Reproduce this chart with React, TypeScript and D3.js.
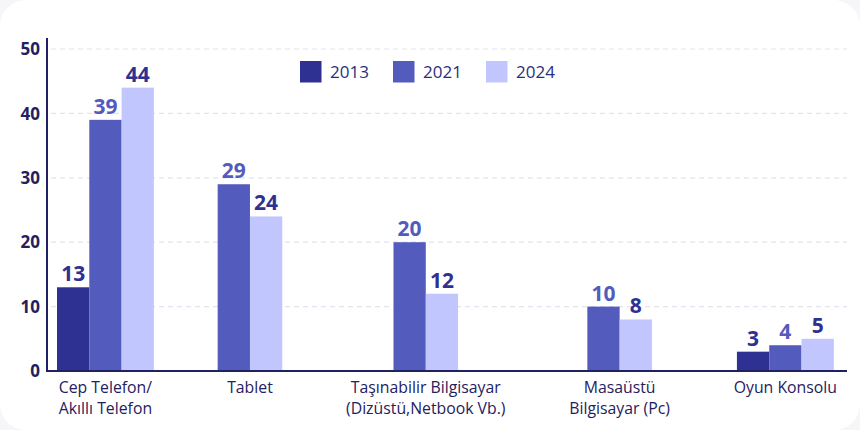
import React from "react";
import * as d3 from "d3";

const categories: string[][] = [
  ["Cep Telefon/", "Akıllı Telefon"],
  ["Tablet"],
  ["Taşınabilir Bilgisayar", "(Dizüstü,Netbook Vb.)"],
  ["Masaüstü", "Bilgisayar (Pc)"],
  ["Oyun Konsolu"],
];
const seriesNames = ["2013", "2021", "2024"];
const values2013: (number | null)[] = [13, null, null, null, 3];
const values2021: (number | null)[] = [39, 29, 20, 10, 4];
const values2024: (number | null)[] = [44, 24, 12, 8, 5];
const yTicks = [0, 10, 20, 30, 40, 50];

const seriesValues = [values2013, values2021, values2024];
const barColors = ["#2e3192", "#535bbd", "#c1c6fe"];
const labelColors = ["#2e3192", "#535bbd", "#2e3192"];
const NAVY = "#1f2160";
const FONT = "'Open Sans', 'Noto Sans', sans-serif";

const W = 860;
const H = 430;
const X0 = 47;
const X1 = 847;
const BAR_W = 32.3;
const EDGE_PAD = 10;
const CAT_SIZE = 15.8;
const CAT_FONT = `500 ${CAT_SIZE}px 'Open Sans'`;

function measure(text: string, font: string): number {
  if (typeof document === "undefined") return text.length * 8;
  const c = document.createElement("canvas");
  const ctx = c.getContext("2d");
  if (!ctx) return text.length * 8;
  ctx.font = font;
  return ctx.measureText(text).width;
}

export default function App() {
  const y = d3.scaleLinear().domain([0, 50]).range([371, 49]);

  // layout categories like a space-between row of items
  const items = categories.map((lines, i) => {
    const present = seriesNames.filter((_, s) => seriesValues[s][i] != null);
    const labelW = Math.max(...lines.map((l) => measure(l, CAT_FONT)));
    const barsW = present.length * BAR_W;
    return { lines, present, width: Math.max(labelW, barsW) };
  });
  const total = d3.sum(items, (d) => d.width);
  const gap = (X1 - X0 - 2 * EDGE_PAD - total) / (items.length - 1);
  let cursor = X0 + EDGE_PAD;
  const centers = items.map((it) => {
    const c = cursor + it.width / 2;
    cursor += it.width + gap;
    return c;
  });

  const legendX = d3.scalePoint<string>().domain(seriesNames).range([300, 486]);

  return (
    <div style={{ position: "absolute", left: 0, top: 0 }}>
      <svg width={W} height={H} style={{ display: "block", fontFamily: FONT }}>
        <rect x={0} y={0} width={W} height={H} fill="#f6f6f8" />
        <rect x={0} y={0} width={W} height={H} rx={26} fill="#ffffff" />

        {/* grid */}
        {yTicks.filter((t) => t > 0).map((t) => (
          <line
            key={"g" + t}
            x1={X0 + 4}
            x2={X1}
            y1={y(t)}
            y2={y(t)}
            stroke="#e2e3ee"
            strokeWidth={1.2}
            strokeDasharray="5 4"
          />
        ))}

        {/* y tick labels */}
        {yTicks.map((t) => (
          <text
            key={"t" + t}
            x={40}
            y={y(t)}
            dy="0.36em"
            textAnchor="end"
            fontSize={17}
            fontWeight={700}
            fill={NAVY}
          >
            {t}
          </text>
        ))}

        {/* bars */}
        {items.map((it, i) => {
          const band = d3
            .scaleBand<string>()
            .domain(it.present)
            .range([
              centers[i] - (it.present.length * BAR_W) / 2,
              centers[i] + (it.present.length * BAR_W) / 2,
            ]);
          return (
            <g key={"c" + i}>
              {it.present.map((s) => {
                const si = seriesNames.indexOf(s);
                const v = seriesValues[si][i] as number;
                const bx = band(s) as number;
                return (
                  <g key={s}>
                    <rect
                      x={bx}
                      y={y(v)}
                      width={band.bandwidth()}
                      height={y(0) - y(v)}
                      fill={barColors[si]}
                    />
                    <text
                      x={bx + band.bandwidth() / 2}
                      y={y(v) - 6}
                      textAnchor="middle"
                      fontSize={21}
                      fontWeight={700}
                      fill={labelColors[si]}
                    >
                      {v}
                    </text>
                  </g>
                );
              })}
              {it.lines.map((l, li) => (
                <text
                  key={li}
                  x={centers[i]}
                  y={392.5 + li * 21.5}
                  textAnchor="middle"
                  fontSize={CAT_SIZE}
                  fontWeight={500}
                  fill={NAVY}
                >
                  {l}
                </text>
              ))}
            </g>
          );
        })}

        {/* axes */}
        <line x1={X0} x2={X0} y1={38} y2={372} stroke={NAVY} strokeWidth={2} />
        <line x1={X0} x2={X1} y1={371} y2={371} stroke={NAVY} strokeWidth={2} />

        {/* legend */}
        {seriesNames.map((s, si) => (
          <g key={"l" + s} transform={`translate(${legendX(s)},61)`}>
            <rect width={21.5} height={21.5} fill={barColors[si]} />
            <text x={30} y={17} fontSize={17} fontWeight={500} fill="#2b2e7c">
              {s}
            </text>
          </g>
        ))}
      </svg>
    </div>
  );
}
